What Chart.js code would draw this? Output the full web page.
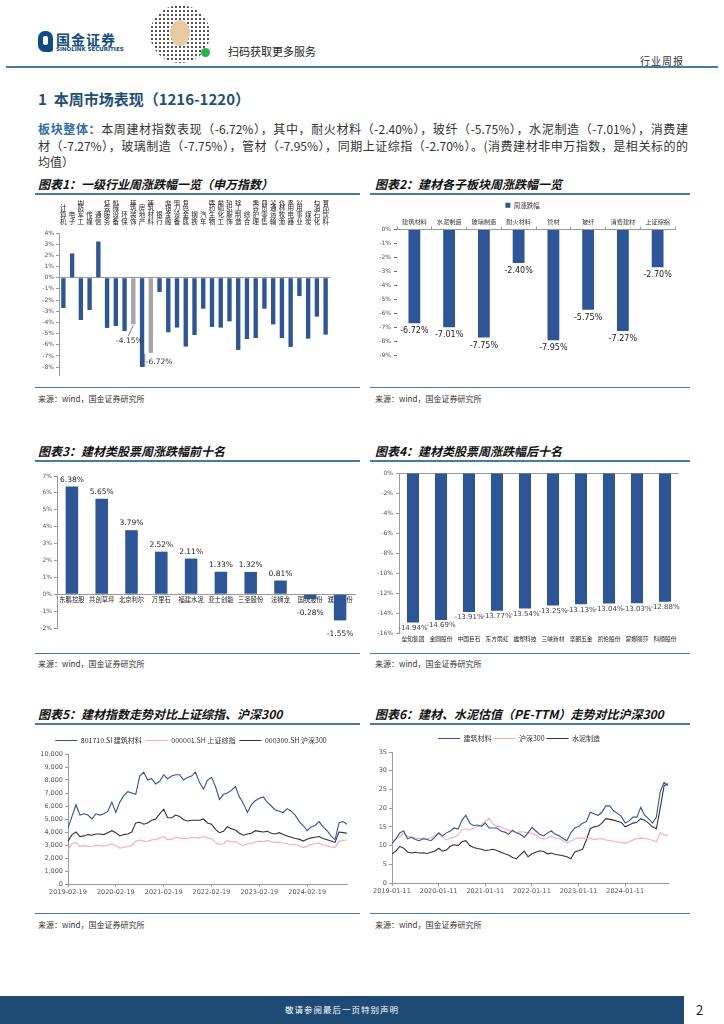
<!DOCTYPE html>
<html>
<head>
<meta charset="utf-8">
<script src="https://cdn.jsdelivr.net/npm/chart.js@4.4.1/dist/chart.umd.min.js"></script>
<style>
  body { margin: 0; background: #fff; }
  #page { position: relative; width: 724px; height: 1024px; overflow: hidden; font-family: "Noto Sans CJK SC", sans-serif; color: #222; }
  .abs { position: absolute; }
  .rule { position: absolute; height: 2px; background: #4a7a9c; }
  .thin { position: absolute; height: 1px; background: #4a7a9c; }
  .ctitle { position: absolute; font-size: 12px; font-weight: bold; font-style: italic; color: #111; white-space: nowrap; }
  .src { position: absolute; font-size: 8px; color: #333; white-space: nowrap; }
  .para { position: absolute; left: 38px; width: 650px; font-size: 12px; line-height: 16.5px; text-align: justify; text-align-last: justify; white-space: nowrap; color: #333; }
  canvas { position: absolute; }
</style>
</head>
<body>
<div id="page">
  <!-- 页眉 -->
  <div class="abs" style="left:38px;top:31px;width:15px;height:21px;background:#0f4c81;border-radius:7px 7px 3px 7px;"></div>
  <div class="abs" style="left:43px;top:36px;width:5px;height:9px;background:#fff;border-radius:2px;"></div>
  <div class="abs" style="left:56px;top:29px;font-size:14px;font-weight:bold;color:#0f4c81;letter-spacing:1px;">国金证券</div>
  <div class="abs" style="left:56px;top:46px;font-size:5.5px;font-weight:bold;color:#0f4c81;font-family:'DejaVu Sans';">SINOLINK SECURITIES</div>
  <div class="abs" style="left:150px;top:5px;width:60px;height:58px;border-radius:50%;background-image:radial-gradient(#555 0.9px, transparent 1.1px);background-size:4px 4px;"></div>
  <div class="abs" style="left:170px;top:20px;width:20px;height:26px;border-radius:50%;background:#e8c9a4;"></div>
  <div class="abs" style="left:201px;top:48px;width:9px;height:9px;border-radius:50%;background:#2bb24c;"></div>
  <div class="abs" style="left:228px;top:43px;font-size:11px;color:#222;">扫码获取更多服务</div>
  <div class="abs" style="left:640px;top:53px;font-size:10px;color:#333;letter-spacing:1px;">行业周报</div>
  <div class="rule" style="left:6px;top:66px;width:712px;"></div>

  <!-- 正文 -->
  <div class="abs" style="left:38px;top:88px;font-size:15px;font-weight:bold;color:#1f4e79;">1&nbsp; 本周市场表现（1216-1220）</div>
  <div class="para" style="top:121px;"><span style="color:#2e6da4;font-weight:bold;">板块整体：</span>本周建材指数表现（-6.72%），其中，耐火材料（-2.40%），玻纤（-5.75%），水泥制造（-7.01%），消费建</div>
  <div class="para" style="top:137.5px;">材（-7.27%），玻璃制造（-7.75%），管材（-7.95%），同期上证综指（-2.70%）。(消费建材非申万指数，是相关标的的</div>
  <div class="abs" style="left:38px;top:154px;font-size:12px;line-height:16.5px;color:#333;">均值）</div>

  <!-- 第一行图 -->
  <div class="ctitle" style="left:38px;top:175px;">图表1：一级行业周涨跌幅一览（申万指数）</div>
  <div class="ctitle" style="left:375px;top:175px;">图表2：建材各子板块周涨跌幅一览</div>
  <div class="rule" style="left:35px;top:193px;width:325px;"></div>
  <div class="rule" style="left:370px;top:193px;width:320px;"></div>
  <canvas id="c1" width="325" height="185" style="left:35px;top:196px;"></canvas>
  <canvas id="c2" width="320" height="185" style="left:370px;top:196px;"></canvas>
  <div class="thin" style="left:35px;top:387px;width:325px;"></div>
  <div class="thin" style="left:370px;top:387px;width:320px;"></div>
  <div class="src" style="left:38px;top:393px;">来源：wind，国金证券研究所</div>
  <div class="src" style="left:375px;top:393px;">来源：wind，国金证券研究所</div>

  <!-- 第二行图 -->
  <div class="ctitle" style="left:38px;top:442px;">图表3：建材类股票周涨跌幅前十名</div>
  <div class="ctitle" style="left:375px;top:442px;">图表4：建材类股票周涨跌幅后十名</div>
  <div class="rule" style="left:35px;top:460px;width:325px;"></div>
  <div class="rule" style="left:370px;top:460px;width:320px;"></div>
  <canvas id="c3" width="325" height="177" style="left:35px;top:468px;"></canvas>
  <canvas id="c4" width="320" height="185" style="left:370px;top:465px;"></canvas>
  <div class="thin" style="left:35px;top:653px;width:325px;"></div>
  <div class="thin" style="left:370px;top:653px;width:320px;"></div>
  <div class="src" style="left:38px;top:658px;">来源：wind，国金证券研究所</div>
  <div class="src" style="left:375px;top:658px;">来源：wind，国金证券研究所</div>

  <!-- 第三行图 -->
  <div class="ctitle" style="left:38px;top:705px;">图表5：建材指数走势对比上证综指、沪深300</div>
  <div class="ctitle" style="left:375px;top:705px;">图表6：建材、水泥估值（PE-TTM）走势对比沪深300</div>
  <div class="rule" style="left:35px;top:723px;width:325px;"></div>
  <div class="rule" style="left:370px;top:723px;width:320px;"></div>
  <canvas id="c5" width="325" height="167" style="left:35px;top:733px;"></canvas>
  <canvas id="c6" width="320" height="167" style="left:370px;top:733px;"></canvas>
  <div class="thin" style="left:35px;top:913px;width:325px;"></div>
  <div class="thin" style="left:370px;top:913px;width:320px;"></div>
  <div class="src" style="left:38px;top:919px;">来源：wind，国金证券研究所</div>
  <div class="src" style="left:375px;top:919px;">来源：wind，国金证券研究所</div>

  <!-- 页脚 -->
  <div class="abs" style="left:0;top:996px;width:684px;height:28px;background:#1d4b75;"></div>
  <div class="abs" style="left:0;top:1003px;width:684px;text-align:center;font-size:8.5px;color:#fff;letter-spacing:1px;">敬请参阅最后一页特别声明</div>
  <div class="abs" style="left:696px;top:1000px;font-size:13px;color:#222;">2</div>
</div>

<script>
// 图表1：申万一级行业周涨跌幅
const industries = ['计算机','电子','国防军工','传媒','通信','社会服务','机械设备','环保','建筑装饰','房地产','建筑材料','银行','非银金融','电力设备','有色金属','钢铁','汽车','医药生物','基础化工','纺织服饰','轻工制造','综合','美容护理','商贸零售','交通运输','农林牧渔','家用电器','公用事业','煤炭','石油石化','食品饮料'];
const industryChanges = [-2.71, 2.17, -3.78, -2.89, 3.24, -4.49, -4.32, -4.76, -4.15, -7.98, -6.72, -1.28, -4.88, -4.46, -6.16, -5.12, -2.77, -4.40, -4.46, -3.90, -6.46, -5.48, -5.39, -2.77, -4.17, -5.39, -6.19, -1.64, -5.45, -3.48, -5.09];
const greyIndustries = ['建筑装饰', '建筑材料'];
const pctTicks1 = [4, 3, 2, 1, 0, -1, -2, -3, -4, -5, -6, -7, -8];

// 图表2：建材子板块
const subSectors = ['建筑材料','水泥制造','玻璃制造','耐火材料','管材','玻纤','消费建材','上证综指'];
const subChanges = [-6.72, -7.01, -7.75, -2.40, -7.95, -5.75, -7.27, -2.70];

// 图表3 / 4：涨跌幅前后十名
const topStocks = ['东鹏控股','共创草坪','北京利尔','万里石','福建水泥','亚士创能','三圣股份','法狮龙','国统股份','濮耐股份'];
const topChanges = [6.38, 5.65, 3.79, 2.52, 2.11, 1.33, 1.32, 0.81, -0.28, -1.55];
const bottomStocks = ['垒知集团','金圆股份','中国巨石','东方雨虹','雄塑科技','三峡新材','坚朗五金','凯伦股份','蒙娜丽莎','科顺股份'];
const bottomChanges = [-14.94, -14.69, -13.91, -13.77, -13.54, -13.25, -13.13, -13.04, -13.03, -12.88];

// 图表5：指数走势（月度取点，2019-02-19 起）
const idxBuilding = [4300,5200,6100,5300,5400,5300,5000,5400,5300,5400,5600,
  6300,5500,6300,6800,7100,7000,6900,8300,8600,8000,8100,7700,
  7900,8400,8100,8300,8400,8400,8000,8200,8300,8600,7800,7300,
  8000,8200,7500,6500,6900,7000,7200,7500,6700,6200,5500,6100,
  6400,6600,6700,6300,6000,5700,5600,5500,5800,5600,5300,4800,
  4500,4100,4400,4500,4800,4400,4100,3700,3400,4700,4800,4600];
const idxShanghai = [2650,3100,3200,2900,2950,2900,2880,2980,2950,2900,3000,
  3090,2950,2750,2830,2880,2950,3300,3380,3300,3270,3400,3400,
  3550,3650,3400,3450,3600,3550,3500,3500,3600,3550,3550,3650,
  3550,3480,3200,3050,3100,3350,3250,3270,3100,2950,3100,3100,
  3250,3300,3250,3350,3250,3200,3200,3150,3100,3000,3050,2950,
  2800,2900,3050,3100,3150,3000,2950,2850,2800,3300,3350,3380];
const idxHs300 = [3300,3800,4000,3650,3700,3800,3750,3850,3850,3800,3950,
  4100,3950,3700,3800,3850,4000,4700,4750,4600,4700,4900,5000,
  5400,5750,5100,5100,5300,5200,4950,4850,4900,4900,4900,5000,
  4700,4600,4200,3950,4050,4400,4250,4150,3900,3750,3850,3900,
  4100,4050,4000,4050,3900,3850,3950,3800,3700,3600,3500,3450,
  3300,3450,3550,3600,3650,3500,3400,3300,3200,4000,3950,3900];

// 图表6：PE-TTM（月度取点，2019-01-11 起）
const peBuilding = [10.5,11.8,13.4,13.9,11.8,12.2,11.6,11.3,11.8,11.6,11.3,12.2,
  13.4,12.6,13.4,13.9,14.7,14.4,16.8,18.1,16.0,15.3,15.5,15.1,
  16.0,14.7,14.7,14.7,13.9,13.6,13.0,14.1,13.4,13.0,12.2,13.4,
  14.9,13.9,13.0,12.6,13.4,13.9,13.0,12.6,11.9,11.3,13.4,14.7,
  15.1,16.0,16.4,18.9,18.5,18.1,18.9,20.6,20.6,19.3,18.6,17.8,
  16.0,16.6,17.6,17.6,20.2,18.1,17.2,16.0,17.6,24.4,26.9,26.0];
const peHs300 = [10.8,11.8,12.5,13.3,12.5,12.3,12.0,11.8,12.0,11.9,12.0,12.6,
  13.1,12.3,11.5,12.0,12.2,12.8,14.3,14.5,14.2,14.6,15.0,15.5,
  16.5,17.3,15.7,15.2,15.0,14.5,14.0,13.8,13.5,13.7,13.6,13.4,
  13.3,12.8,12.0,11.8,12.0,12.5,12.0,11.8,11.3,10.7,11.2,11.7,
  12.0,12.0,11.9,12.0,11.6,11.8,11.9,11.5,11.4,11.1,11.0,10.8,
  10.6,11.0,11.5,11.8,12.0,11.9,11.7,11.4,11.0,13.5,12.8,12.8];
const peCement = [7.8,8.5,9.8,9.3,8.3,8.0,8.2,8.0,8.1,7.9,8.2,8.5,
  9.3,8.5,8.8,9.8,10.2,10.0,11.0,11.3,10.0,9.5,9.2,9.0,
  8.7,8.8,9.0,8.7,8.2,7.8,7.5,6.8,6.5,7.5,8.5,7.0,
  7.8,8.2,8.6,8.4,7.8,8.0,7.6,7.5,7.3,7.0,6.5,8.3,
  8.6,9.0,11.5,14.5,15.0,15.2,16.0,17.2,17.0,16.8,16.5,16.2,
  15.0,15.5,16.0,16.2,17.2,16.8,16.0,15.0,14.5,20.0,26.0,26.5];

// 月度日期标签
function monthLabels(y, m, day, count) {
  const out = [];
  for (let i = 0; i < count; i++) {
    const mm = (m - 1 + i) % 12 + 1;
    const yy = y + Math.floor((m - 1 + i) / 12);
    out.push(yy + '-' + String(mm).padStart(2, '0') + '-' + day);
  }
  return out;
}
const dates5 = monthLabels(2019, 2, '19', idxBuilding.length);
const dates6 = monthLabels(2019, 1, '11', peBuilding.length);

const CJK = '"Noto Sans CJK SC", sans-serif';
const NUM = '"DejaVu Sans", sans-serif';
const BLUE = '#2e5597';
const GREY = '#a5a5a5';
const PINK = '#f6aab4';
const BLACK = '#333333';
const AXIS = '#9a9a9a';

Chart.defaults.animation = false;
Chart.defaults.responsive = false;
Chart.defaults.plugins.tooltip.enabled = false;

// 柱上数值标签
const valueLabels = {
  id: 'valueLabels',
  afterDatasetsDraw(chart, args, opts) {
    if (!opts.show) return;
    const ctx = chart.ctx;
    const meta = chart.getDatasetMeta(0);
    const data = chart.data.datasets[0].data;
    ctx.save();
    ctx.font = opts.font;
    ctx.fillStyle = opts.color;
    ctx.textAlign = 'center';
    meta.data.forEach((bar, i) => {
      const v = data[i];
      if (v >= 0) {
        ctx.textBaseline = 'bottom';
        ctx.fillText(v.toFixed(2) + '%', bar.x, bar.y - opts.gapUp);
      } else {
        ctx.textBaseline = 'top';
        ctx.fillText(v.toFixed(2) + '%', bar.x, bar.y + opts.gapDown);
      }
    });
    ctx.restore();
  }
};

// 图表1 的两个建材相关标注
const greyNotes = {
  id: 'greyNotes',
  afterDatasetsDraw(chart, args, opts) {
    if (!opts.show) return;
    const ctx = chart.ctx;
    const meta = chart.getDatasetMeta(0);
    const data = chart.data.datasets[0].data;
    ctx.save();
    ctx.font = '7.5px ' + NUM;
    ctx.fillStyle = '#333';
    ctx.strokeStyle = '#555';
    ctx.lineWidth = 0.8;
    const a = meta.data[industries.indexOf('建筑装饰')];
    ctx.beginPath();
    ctx.moveTo(a.x, a.y + 1);
    ctx.lineTo(a.x - 5, a.y + 12);
    ctx.stroke();
    ctx.textAlign = 'center';
    ctx.textBaseline = 'middle';
    ctx.fillText(data[industries.indexOf('建筑装饰')].toFixed(2) + '%', a.x - 4, a.y + 17);
    const b = meta.data[industries.indexOf('建筑材料')];
    ctx.beginPath();
    ctx.moveTo(b.x - 6, b.y + 1);
    ctx.lineTo(b.x - 6, b.y + 14);
    ctx.stroke();
    ctx.textAlign = 'left';
    ctx.fillText(data[industries.indexOf('建筑材料')].toFixed(2) + '%', b.x - 5, b.y + 9);
    ctx.restore();
  }
};
Chart.register(valueLabels, greyNotes);

const zeroGrid = c => (c.tick && c.tick.value === 0 ? AXIS : 'rgba(0,0,0,0)');
const pctFmt = v => v + '%';

// 图表1
new Chart(document.getElementById('c1'), {
  type: 'bar',
  data: {
    labels: industries.map(s => s.split('')),
    datasets: [{
      data: industryChanges,
      backgroundColor: industries.map(n => greyIndustries.includes(n) ? GREY : BLUE),
      barPercentage: 0.5,
      categoryPercentage: 1
    }]
  },
  options: {
    layout: { padding: { top: 4, right: 30, bottom: 6, left: 0 } },
    plugins: { legend: { display: false }, greyNotes: { show: true } },
    scales: {
      x: {
        position: 'top',
        grid: { display: false, drawTicks: false },
        border: { display: false },
        ticks: { autoSkip: false, maxRotation: 0, minRotation: 0, padding: 8, color: '#222', font: { family: CJK, size: 6.5, lineHeight: 1.05 } },
        afterFit: s => { s.height = 33; }
      },
      y: {
        min: -8.7, max: 4,
        afterBuildTicks: s => { s.ticks = pctTicks1.map(v => ({ value: v })); },
        ticks: { callback: pctFmt, color: '#555', padding: 2, font: { family: NUM, size: 6 } },
        grid: { color: zeroGrid, tickColor: AXIS, tickLength: 3 },
        border: { color: AXIS },
        afterFit: s => { s.width = 24; }
      }
    }
  }
});

// 图表2
new Chart(document.getElementById('c2'), {
  type: 'bar',
  data: {
    labels: subSectors,
    datasets: [{ label: '周涨跌幅', data: subChanges, backgroundColor: BLUE, barPercentage: 0.34, categoryPercentage: 1 }]
  },
  options: {
    layout: { padding: { top: 0, right: 15, bottom: 26, left: 0 } },
    plugins: {
      legend: { position: 'top', labels: { boxWidth: 5, boxHeight: 5, padding: 6, color: '#333', font: { family: CJK, size: 6.5 } } },
      valueLabels: { show: true, font: '8px ' + NUM, color: '#222', gapUp: 3, gapDown: 4 }
    },
    scales: {
      x: {
        position: 'top',
        grid: { drawOnChartArea: false, tickLength: 3, color: AXIS },
        border: { color: AXIS },
        ticks: { color: '#333', padding: 1, font: { family: CJK, size: 6.2 } },
        afterFit: s => { s.height = 11; }
      },
      y: {
        min: -9, max: 0,
        ticks: { stepSize: 1, callback: pctFmt, color: '#555', padding: 3, font: { family: NUM, size: 6 } },
        grid: { drawOnChartArea: false, tickLength: 3, color: '#666' },
        border: { display: false },
        afterFit: s => { s.width = 27; }
      }
    }
  }
});

// 图表3
new Chart(document.getElementById('c3'), {
  type: 'bar',
  data: {
    labels: topStocks,
    datasets: [{ data: topChanges, backgroundColor: BLUE, barPercentage: 0.42, categoryPercentage: 1 }]
  },
  options: {
    layout: { padding: { top: 8, right: 5, bottom: 17, left: 0 } },
    plugins: {
      legend: { display: false },
      valueLabels: { show: true, font: '7.5px ' + NUM, color: '#222', gapUp: 3, gapDown: 10 }
    },
    scales: {
      x: {
        position: { y: 0 },
        z: 1,
        grid: { display: false, drawTicks: false },
        border: { color: AXIS },
        ticks: { autoSkip: false, maxRotation: 0, minRotation: 0, color: '#222', padding: 2, font: { family: CJK, size: 6.3 },
          backdropColor: 'rgba(255,255,255,0.85)', showLabelBackdrop: true, backdropPadding: 0 }
      },
      y: {
        min: -2, max: 7,
        ticks: { stepSize: 1, callback: pctFmt, color: '#555', padding: 2, font: { family: NUM, size: 6 } },
        grid: { drawOnChartArea: false, tickLength: 3, color: AXIS },
        border: { color: AXIS },
        afterFit: s => { s.width = 22; }
      }
    }
  }
});

// 图表4
new Chart(document.getElementById('c4'), {
  type: 'bar',
  data: {
    labels: bottomStocks,
    datasets: [{ data: bottomChanges, backgroundColor: BLUE, barPercentage: 0.43, categoryPercentage: 1 }]
  },
  options: {
    layout: { padding: { top: 8, right: 11, bottom: 5, left: 0 } },
    plugins: {
      legend: { display: false },
      valueLabels: { show: true, font: '7px ' + NUM, color: '#444', gapUp: 3, gapDown: 2 }
    },
    scales: {
      x: {
        grid: { display: false, drawTicks: false },
        border: { display: false },
        ticks: { autoSkip: false, maxRotation: 0, minRotation: 0, color: '#222', padding: 2, font: { family: CJK, size: 5.8 } },
        afterFit: s => { s.height = 12; }
      },
      y: {
        min: -16, max: 0,
        ticks: { stepSize: 2, callback: pctFmt, color: '#555', padding: 3, font: { family: NUM, size: 6 } },
        grid: { color: zeroGrid, tickColor: AXIS, tickLength: 3 },
        border: { color: AXIS },
        afterFit: s => { s.width = 29; }
      }
    }
  }
});

// 折线图公共设置
function lineOptions(opts) {
  return {
    layout: { padding: opts.padding },
    elements: { point: { radius: 0 }, line: { borderWidth: 1.1, tension: 0 } },
    plugins: {
      legend: {
        position: 'top',
        labels: { usePointStyle: true, pointStyle: 'line', pointStyleWidth: 22, padding: opts.legendPad, color: '#333', font: { family: CJK, size: 7 } }
      }
    },
    scales: {
      x: {
        grid: { drawOnChartArea: false, tickLength: 3, tickColor: c => (c.index % 12 === 0 ? AXIS : 'rgba(0,0,0,0)') },
        border: { color: AXIS },
        ticks: {
          autoSkip: false, maxRotation: 0, padding: 1, color: '#555', font: { family: NUM, size: 6.5 },
          callback: function (v, i) { return i % 12 === 0 ? this.getLabelForValue(v) : ''; }
        },
        afterFit: s => { s.height = 12; }
      },
      y: {
        min: 0, max: opts.max,
        ticks: { stepSize: opts.step, color: '#555', padding: 2, font: { family: NUM, size: 6.5 }, callback: opts.fmt },
        grid: { drawOnChartArea: false, tickLength: 3, color: AXIS },
        border: { color: AXIS },
        afterFit: s => { s.width = opts.yWidth; }
      }
    }
  };
}

// 图表5
new Chart(document.getElementById('c5'), {
  type: 'line',
  data: {
    labels: dates5,
    datasets: [
      { label: '801710.SI 建筑材料', data: idxBuilding, borderColor: BLUE, backgroundColor: BLUE },
      { label: '000001.SH 上证综指', data: idxShanghai, borderColor: PINK, backgroundColor: PINK },
      { label: '000300.SH 沪深300', data: idxHs300, borderColor: BLACK, backgroundColor: BLACK }
    ]
  },
  options: lineOptions({ padding: { top: 0, right: 13, bottom: 4, left: 0 }, legendPad: 4, max: 10000, step: 1000, yWidth: 33, fmt: v => v.toLocaleString('en-US') })
});

// 图表6
new Chart(document.getElementById('c6'), {
  type: 'line',
  data: {
    labels: dates6,
    datasets: [
      { label: '建筑材料', data: peBuilding, borderColor: BLUE, backgroundColor: BLUE },
      { label: '沪深300', data: peHs300, borderColor: PINK, backgroundColor: PINK },
      { label: '水泥制造', data: peCement, borderColor: BLACK, backgroundColor: BLACK }
    ]
  },
  options: lineOptions({ padding: { top: 0, right: 22, bottom: 5, left: 0 }, legendPad: 2, max: 35, step: 5, yWidth: 22, fmt: v => v })
});
</script>
</body>
</html>
